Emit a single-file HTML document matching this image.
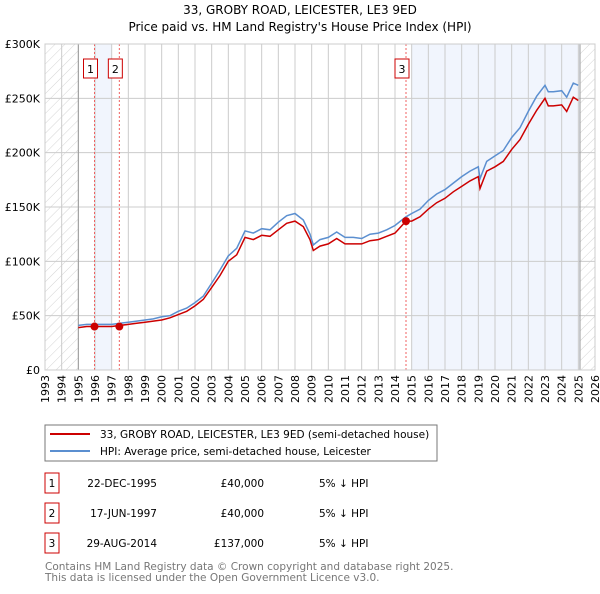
<!DOCTYPE html>
<html><head><meta charset="utf-8"><style>
body{margin:0;background:#fff;font-family:"DejaVu Sans","Liberation Sans",sans-serif;}
svg text{font-family:"DejaVu Sans","Liberation Sans",sans-serif;}
</style></head><body>
<svg id="c" width="600" height="590" xmlns="http://www.w3.org/2000/svg">
<defs><pattern id="h" width="7" height="7" patternUnits="userSpaceOnUse" patternTransform="rotate(45)"><line x1="0" y1="0" x2="0" y2="7" stroke="#d4d4d4" stroke-width="1"/></pattern></defs>
<text x="300" y="14" text-anchor="middle" font-size="12">33, GROBY ROAD, LEICESTER, LE3 9ED</text>
<text x="300" y="31" text-anchor="middle" font-size="12">Price paid vs. HM Land Registry's House Price Index (HPI)</text>
<g id="plot"></g>
<rect x="45" y="425" width="392" height="36" fill="#fff" stroke="#777"/>
<line x1="50" y1="434" x2="90" y2="434" stroke="#cc0000" stroke-width="2"/>
<text x="100" y="438" font-size="10.5">33, GROBY ROAD, LEICESTER, LE3 9ED (semi-detached house)</text>
<line x1="50" y1="451" x2="90" y2="451" stroke="#5b8fd0" stroke-width="2"/>
<text x="100" y="455" font-size="10.5">HPI: Average price, semi-detached house, Leicester</text>
<g id="tbl" font-size="10.5"></g>
<text x="45" y="570" font-size="10.5" fill="#777">Contains HM Land Registry data © Crown copyright and database right 2025.</text>
<text x="45" y="581" font-size="10.5" fill="#777">This data is licensed under the Open Government Licence v3.0.</text>
</svg>
<script>
const years=[1995,1995.5,1996,1996.5,1997,1997.5,1998,1998.5,1999,1999.5,2000,2000.5,2001,2001.5,2002,2002.5,2003,2003.5,2004,2004.5,2005,2005.5,2006,2006.5,2007,2007.5,2008,2008.5,2008.9,2009.1,2009.5,2010,2010.5,2011,2011.5,2012,2012.5,2013,2013.5,2014,2014.66,2015,2015.5,2016,2016.5,2017,2017.5,2018,2018.5,2019,2019.1,2019.5,2020,2020.5,2021,2021.5,2022,2022.5,2023,2023.2,2023.5,2024,2024.3,2024.7,2025.0];
const hpi=[41,42,42,42,42,43,44,45,46,47,49,50,54,57,62,68,80,92,105,112,128,126,130,129,136,142,144,138,125,115,120,122,127,122,122,121,125,126,129,133,141,144,148,156,162,166,172,178,183,187,176,192,197,202,214,223,238,252,262,256,256,257,251,264,262];
const paid=[39,40,40,40,40,41,42,43,44,45,46,48,51,54,59,65,76,87,100,106,122,120,124,123,129,135,137,132,120,110,114,116,121,116,116,116,119,120,123,126,137,137,141,148,154,158,164,169,174,178,167,183,187,192,203,212,226,239,250,243,243,244,238,251,248];
const sales=[[1995.97,40,'1'],[1997.46,40,'2'],[2014.66,137,'3']];
const yTicks=[0,50,100,150,200,250,300];
const xTicks=[1993,1994,1995,1996,1997,1998,1999,2000,2001,2002,2003,2004,2005,2006,2007,2008,2009,2010,2011,2012,2013,2014,2015,2016,2017,2018,2019,2020,2021,2022,2023,2024,2025,2026];
const tbl=[['1','22-DEC-1995','£40,000','5% ↓ HPI'],['2','17-JUN-1997','£40,000','5% ↓ HPI'],['3','29-AUG-2014','£137,000','5% ↓ HPI']];
const X=v=>45+(v-1993)*550/33, Y=v=>370-v*326/300;
const NS='http://www.w3.org/2000/svg', g=document.getElementById('plot');
function mk(t,a,p){const e=document.createElementNS(NS,t);for(const k in a)e.setAttribute(k,a[k]);(p||g).appendChild(e);return e;}
let e;
e=mk('rect',{x:45,y:44,width:550,height:326,fill:'#fff'});

e=mk('rect',{x:X(1995.97),y:44,width:X(1997)-X(1995.97),height:326,fill:'#eef3fc',opacity:0.8});

e=mk('rect',{x:X(2015),y:44,width:X(2025.1)-X(2015),height:326,fill:'#eef3fc',opacity:0.8});

e=mk('rect',{x:45,y:44,width:X(1995)-45,height:326,fill:'url(#h)'});

e=mk('rect',{x:X(2025.1),y:44,width:595-X(2025.1),height:326,fill:'url(#h)'});

xTicks.forEach(t=>{e=mk('line',{x1:X(t),x2:X(t),y1:44,y2:370,stroke:'#ccc'});

e=mk('text',{x:0,y:0,'font-size':11,'text-anchor':'end',transform:`translate(${X(t)+4},375) rotate(-90)`});e.textContent=t;
});
yTicks.forEach(t=>{e=mk('line',{x1:45,x2:595,y1:Y(t),y2:Y(t),stroke:'#ccc'});

e=mk('text',{x:40,y:Y(t)+4,'font-size':11,'text-anchor':'end'});e.textContent=t===0?'£0':'£'+t+'K';
});
e=mk('line',{x1:X(1995),x2:X(1995),y1:44,y2:370,stroke:'#999'});

e=mk('line',{x1:X(2025.1),x2:X(2025.1),y1:44,y2:370,stroke:'#999'});

sales.forEach(s=>{e=mk('line',{x1:X(s[0]),x2:X(s[0]),y1:44,y2:370,stroke:'#f06060','stroke-dasharray':'2,2'});

e=mk('rect',{x:X(s[0])-11,y:59,width:14,height:19,fill:'#fff',stroke:'#cc0000'});

e=mk('text',{x:X(s[0])-4,y:73,'font-size':11,'text-anchor':'middle'});e.textContent=s[2];
});
const pts=a=>years.map((y,i)=>X(y).toFixed(1)+','+Y(a[i]).toFixed(1)).join(' ');
e=mk('polyline',{points:pts(hpi),fill:'none',stroke:'#5b8fd0','stroke-width':1.5});

e=mk('polyline',{points:pts(paid),fill:'none',stroke:'#cc0000','stroke-width':1.5});

sales.forEach(s=>{e=mk('circle',{cx:X(s[0]),cy:Y(s[1]),r:4,fill:'#cc0000'});
});
e=mk('rect',{x:45,y:44,width:550,height:326,fill:'none',stroke:'#ccc'});

const tg=document.getElementById('tbl');
tbl.forEach((r,i)=>{const cy=483+i*30;
e=mk('rect',{x:45,y:cy-10,width:14,height:20,fill:'#fff',stroke:'#cc0000'},tg);

e=mk('text',{x:52,y:cy+4,'text-anchor':'middle'},tg);e.textContent=r[0];

e=mk('text',{x:157,y:cy+4,'text-anchor':'end'},tg);e.textContent=r[1];

e=mk('text',{x:264,y:cy+4,'text-anchor':'end'},tg);e.textContent=r[2];

e=mk('text',{x:319,y:cy+4},tg);e.textContent=r[3];
});
</script>
</body></html>
